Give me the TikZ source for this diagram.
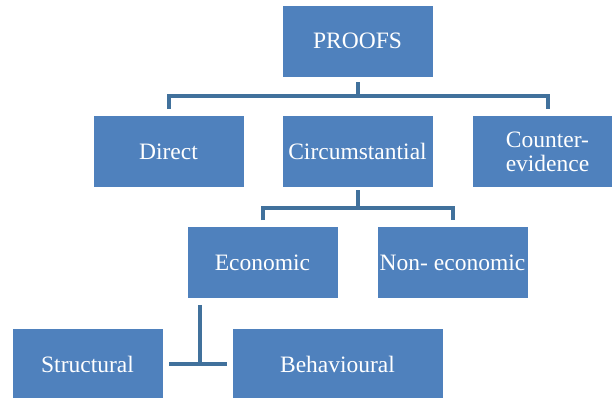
\documentclass[tikz,border=0pt]{standalone}
\usepackage{fontspec}
\setmainfont{Liberation Serif}
\definecolor{boxblue}{HTML}{4F81BD}
\definecolor{lineblue}{HTML}{41719C}
\begin{document}
\begin{tikzpicture}[x=1pt,y=-1pt,
box/.style={draw=white, line width=0.6pt, fill=boxblue, text=white, minimum width=151pt, minimum height=72pt, inner sep=1pt, align=center, font=\fontsize{23.5}{24}\selectfont},
link/.style={draw=lineblue, line width=4pt}
]
\useasboundingbox (0,0) rectangle (612,398);
\node[box] (proofs) at (357.5,41) {PROOFS};
\node[box] (direct) at (168.5,151.5) {Direct};
\node[box] (circ) at (357.5,151.5) {Circumstantial};
\node[box] (counter) at (547.5,151.5) {Counter-\\evidence};
\node[box] (econ) at (262.5,262.5) {Economic};
\node[box] (noneco) at (452.5,262.5) {Non- economic};
\node[box] (struct) at (87.5,364) {Structural};
\node[box, minimum width=211pt] (behav) at (337.5,364) {Behavioural};
\draw[link] ([yshift=-5pt]proofs.south) -- ([yshift=-19pt]proofs.south);
\draw[link] ([yshift=6pt]direct.north) |- ([yshift=-19pt]proofs.south) -| ([yshift=6pt]counter.north);
\draw[link] ([yshift=-2.5pt]circ.south) -- ([yshift=-20.5pt]circ.south);
\draw[link] ([yshift=6pt]econ.north) |- ([yshift=-20.5pt]circ.south) -| ([yshift=6pt]noneco.north);
\path ([xshift=13pt]econ.south west) coordinate (ecoleg);
\draw[link] ([yshift=-6pt]ecoleg) -- (ecoleg |- struct.east);
\draw[link] ([xshift=6pt]struct.east) -- ([xshift=-5pt]behav.west);
\end{tikzpicture}
\end{document}
